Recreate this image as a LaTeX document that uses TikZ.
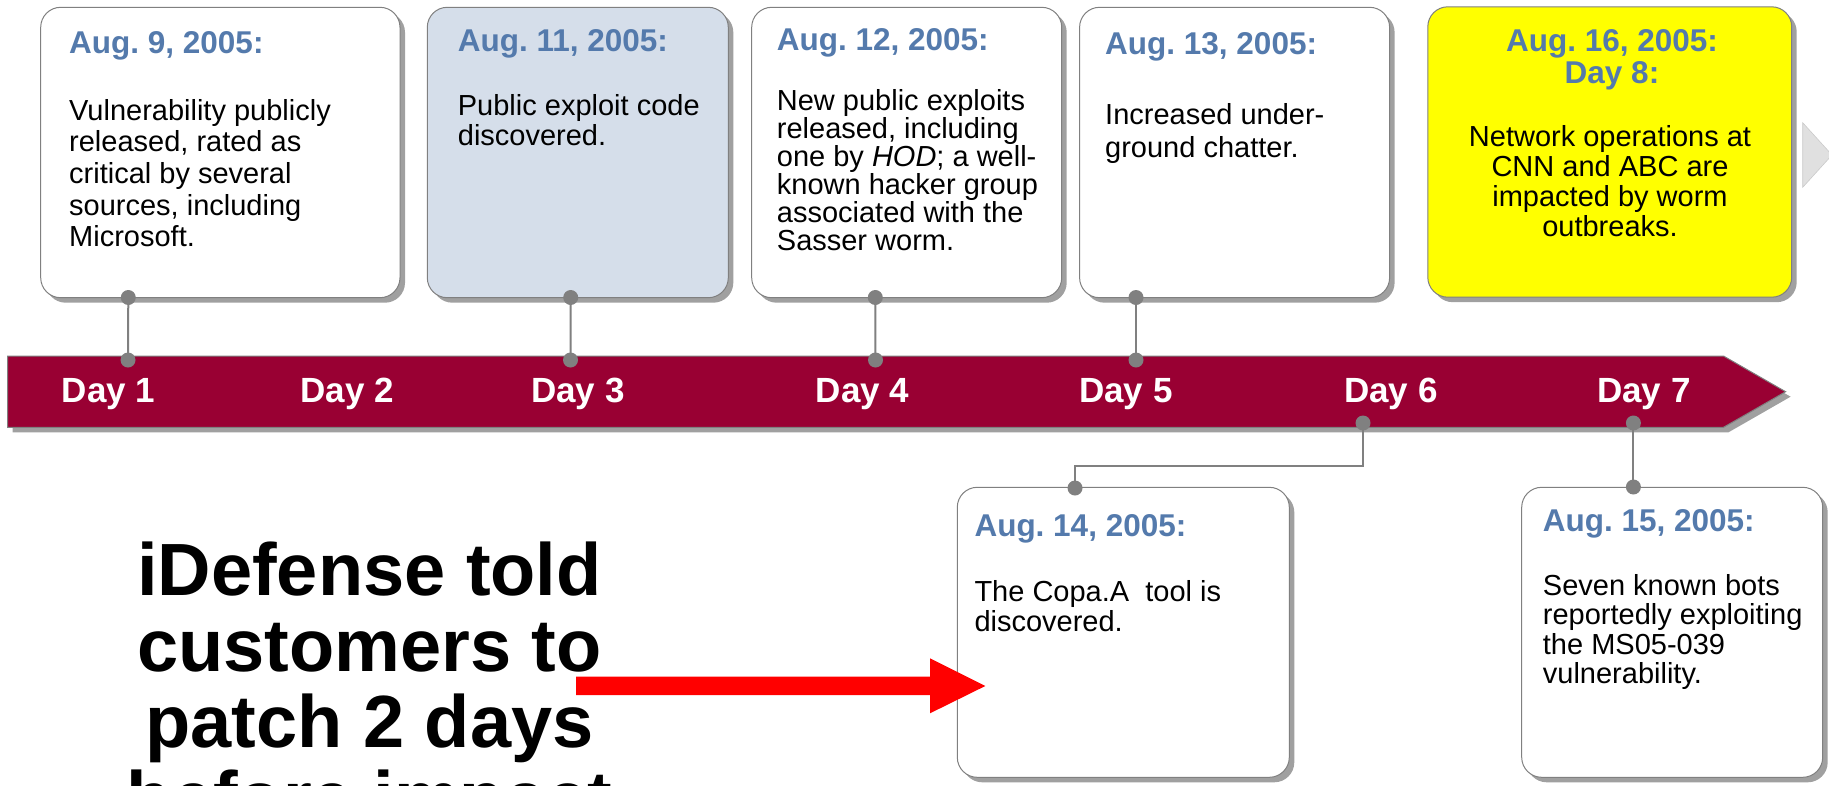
\documentclass[tikz,border=0pt]{standalone}
\usepackage{fontspec}
\setmainfont{Liberation Sans}
\usetikzlibrary{shadows}
\frenchspacing
\definecolor{barred}{RGB}{153,0,51}
\definecolor{ttlblue}{RGB}{84,122,172}
\definecolor{boxblue}{RGB}{213,222,234}
\definecolor{lgray}{RGB}{128,128,128}
\definecolor{shgray}{RGB}{160,160,160}
\definecolor{chev}{RGB}{224,224,224}
\definecolor{ylw}{RGB}{255,255,0}
\tikzset{
  evbox/.style={draw=lgray, line width=1pt, rounded corners=20pt, fill=white,
    minimum width=#1, minimum height=290.4pt, inner sep=0pt,
    drop shadow={shadow xshift=5pt, shadow yshift=-5pt, fill=shgray, opacity=1}},
  knob/.style={circle, fill=lgray, minimum size=15pt, inner sep=0pt},
  conn/.style={draw=lgray, line width=2pt},
  daylab/.style={anchor=base west, inner sep=0pt, text=white, font=\fontsize{35}{42}\selectfont\bfseries},
  datetxt/.style={anchor=base west, inner sep=0pt, text=ttlblue, font=\fontsize{31.5}{31.6}\selectfont\bfseries},
  bodytxt/.style={anchor=base west, inner sep=0pt, text=black, font=\fontsize{29}{#1}\selectfont},
}
\begin{document}
\frenchspacing
\begin{tikzpicture}[x=1pt,y=-1pt]
\useasboundingbox (0,0) rectangle (1829,785);
\clip (0,0) rectangle (1829,785);
% boxes
\node[evbox=359.3pt] (b1) at (220.35,152.5) {};
\node[evbox=301pt, fill=boxblue] (b2) at (577.8,152.5) {};
\node[evbox=310pt] (b3) at (906.7,152.5) {};
\node[evbox=310pt] (b4) at (1234.6,152.5) {};
\node[evbox=363.9pt, fill=ylw] (b5) at (1609.75,152) {};
\node[evbox=332pt, minimum height=290pt] (b6) at (1123.3,632.3) {};
\node[evbox=301pt, minimum height=290pt] (b7) at (1672.2,632.3) {};
% chevron
\fill[chev, draw=chev!90!black, line width=0.6pt] (1802.7,122.7) -- (1832,155) -- (1802.7,187.3) -- cycle;
% bar
\draw[fill=barred, draw=lgray, line width=1pt,
  drop shadow={shadow xshift=5pt, shadow yshift=-5pt, fill=shgray, opacity=1}]
  (7.6,356) -- (1723.5,356) -- (1785.6,391.7) -- (1723.5,427.3) -- (7.6,427.3) -- cycle;
% dots on bar
\node[knob] (d1) at (128,360) {};
\node[knob] (d3) at (570.5,360) {};
\node[knob] (d4) at (875.5,360) {};
\node[knob] (d5) at (1136,360) {};
\node[knob] (d6) at (1363,423) {};
\node[knob] (d7) at (1633.4,423) {};
% dots on boxes
\node[knob] (e1) at (128.3,297.5) {};
\node[knob] (e2) at (570.7,297.5) {};
\node[knob] (e3) at (875.3,297.5) {};
\node[knob] (e4) at (1136,297.5) {};
\node[knob] (e6) at (1075,488) {};
\node[knob] (e7) at (1633.4,487) {};
\coordinate (k6) at (1075,465.5);
% connectors
\draw[conn] (e1.center) -- (d1.center);
\draw[conn] (e2.center) -- (d3.center);
\draw[conn] (e3.center) -- (d4.center);
\draw[conn] (e4.center) -- (d5.center);
\draw[conn] (d6.center) |- (k6) -- (e6.center);
\draw[conn] (d7.center) -- (e7.center);
% day labels
\node[daylab] (l1) at (61.6,402.7) {Day 1};
\node[daylab] (l2) at (300.5,402.7) {Day 2};
\node[daylab] (l3) at (531,402.7) {Day 3};
\node[daylab] (l4) at (815.7,402.7) {Day 4};
\node[daylab] (l5) at (1079,402.7) {Day 5};
\node[daylab] (l6) at (1344,402.7) {Day 6};
\node[daylab] (l7) at (1597,402.7) {Day 7};
% box texts
\node[datetxt] (t1) at (69,53) {Aug. 9, 2005:};
\node[bodytxt=31.7] (x1) at (69,120) {\parbox[t]{320pt}{\raggedright Vulnerability publicly\\released, rated as\\critical by several\\sources, including\\Microsoft.}};
\node[datetxt] (t2) at (457.7,51.7) {Aug. 11, 2005:};
\node[bodytxt=30] (x2) at (457.7,115) {\parbox[t]{270pt}{\raggedright Public exploit code\\discovered.}};
\node[datetxt] (t3) at (776.7,50.7) {Aug. 12, 2005:};
\node[bodytxt=28] (x3) at (776.7,110) {\parbox[t]{280pt}{\raggedright New public exploits\\released, including\\one by \textit{HOD}; a well-\\known hacker group\\associated with the\\Sasser worm.}};
\node[datetxt] (t4) at (1105,54) {Aug. 13, 2005:};
\node[bodytxt=33.3] (x4) at (1105,124) {\parbox[t]{270pt}{\raggedright Increased under-\\ground chatter.}};
\node[anchor=base, inner sep=0pt, text=ttlblue, font=\fontsize{31.5}{31.6}\selectfont\bfseries] (t5) at (1612,51.7) {\parbox[t]{340pt}{\centering Aug. 16, 2005:\\Day 8:}};
\node[anchor=base, inner sep=0pt, font=\fontsize{29}{30}\selectfont] (x5) at (1610,146.7) {\parbox[t]{340pt}{\centering Network operations at\\CNN and ABC are\\impacted by worm\\outbreaks.}};
\node[datetxt] (t6) at (974.3,536.7) {Aug. 14, 2005:};
\node[bodytxt=30] (x6) at (974.3,601.7) {\parbox[t]{300pt}{\raggedright The Copa.A\ \ tool is\\discovered.}};
\node[datetxt] (t7) at (1542.7,531.7) {Aug. 15, 2005:};
\node[bodytxt=29.5] (x7) at (1542.7,595) {\parbox[t]{270pt}{\raggedright Seven known bots\\reportedly exploiting\\the MS05-039\\vulnerability.}};
% big note
\node[anchor=base, inner sep=0pt, font=\fontsize{74}{76}\selectfont\bfseries] (note) at (369.5,595) {\parbox[t]{600pt}{\centering iDefense told\\customers to\\patch 2 days\\before impact}};
% red arrow
\fill[red] (576,676.7) -- (930,676.7) -- (930,658.3) -- (985.3,686) -- (930,713.3) -- (930,695) -- (576,695) -- cycle;
\end{tikzpicture}
\end{document}
